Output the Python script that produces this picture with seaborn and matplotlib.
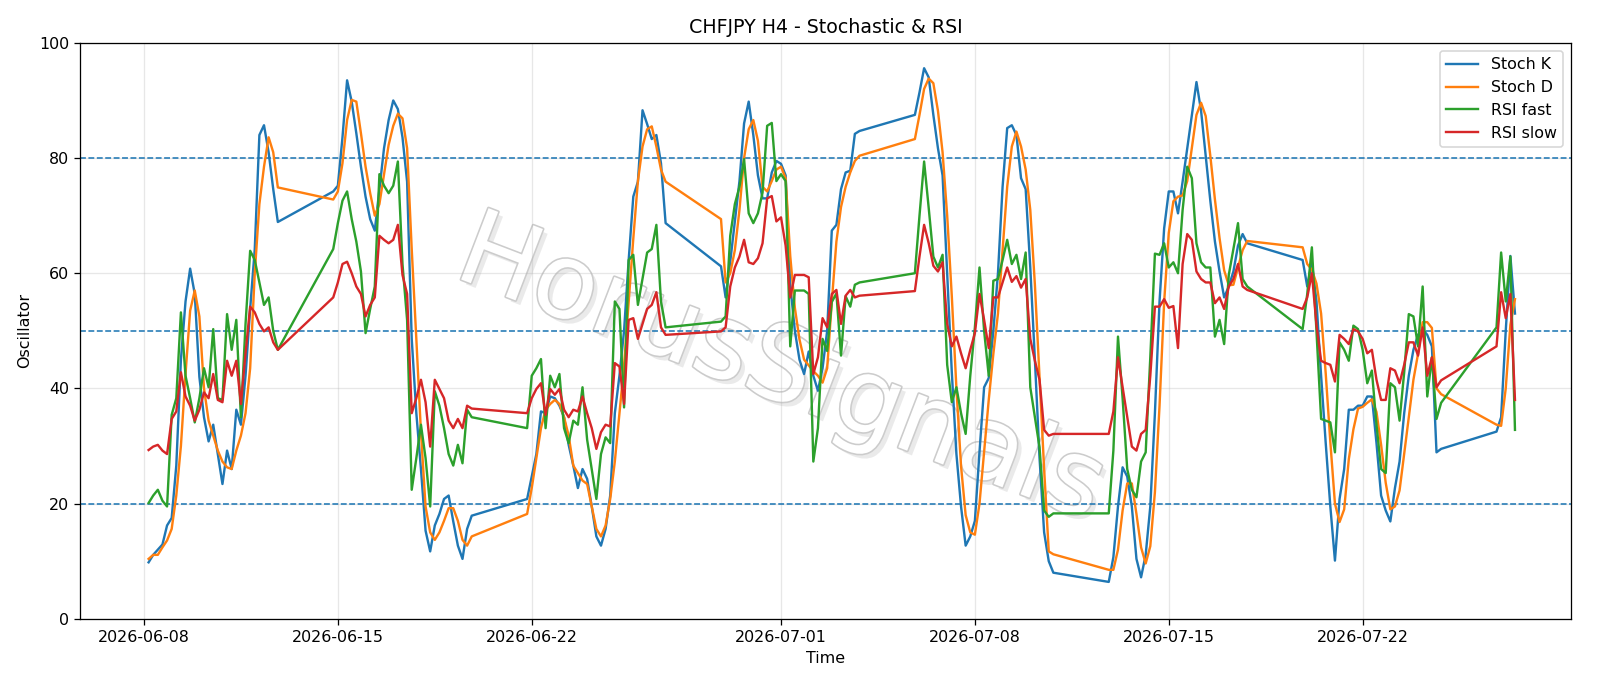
import matplotlib
matplotlib.use('Agg')
import numpy as np
import pandas as pd
import seaborn as sns
import matplotlib.pyplot as plt
import matplotlib.patheffects as pe

DPI = 1600 / 14

# H4 bars, Mon-Fri plus the Sunday 20:00 open bar
times = pd.date_range('2026-06-08 04:00', '2026-07-27 12:00', freq='4h')
times = times[~((times.dayofweek == 5) | ((times.dayofweek == 6) & (times.hour < 20)))]

series_names = ['Stoch K', 'Stoch D', 'RSI fast', 'RSI slow']
colors = ['#1f77b4', '#ff7f0e', '#2ca02c', '#d62728']
levels = [20, 50, 80]

stoch_k = [
    9.8, 11.1, 12.0, 12.9, 16.2, 17.5, 26.6, 45.0, 55.1, 60.8, 56.4, 42.0, 35.0, 30.8, 33.7, 28.6, 23.4, 29.2, 26.0, 36.3, 33.7, 42.2, 53.8, 64.2, 84.0, 85.7, 81.0, 74.6, 68.9,
    74.2, 75.2, 83.6, 93.5, 89.8, 84.3, 78.5, 73.3, 69.4, 67.4, 74.6, 81.7, 86.6, 90.0, 88.5, 83.6, 75.9, 48.6, 35.7, 26.0, 15.3, 11.7, 16.2, 18.2, 20.8, 21.4, 16.9, 12.7, 10.4, 15.6, 17.9,
    20.8, 24.7, 28.6, 36.0, 35.7, 38.6, 38.3, 37.0, 35.0, 30.2, 26.6, 22.7, 26.0, 24.3, 19.5, 14.3, 12.7, 15.6, 21.4, 35.7, 42.2, 50.0, 62.3, 73.3, 75.9, 88.3, 85.9, 83.3, 84.0, 79.1, 68.7,
    61.2, 55.8, 62.0, 69.0, 76.0, 86.0, 89.8, 84.0, 77.0, 73.0, 73.0, 77.5, 79.5, 79.0, 77.0, 58.0, 50.0, 45.0, 42.5, 46.4, 42.2, 39.6, 43.5, 50.0, 67.4, 68.4, 74.6, 77.5, 77.8, 84.2, 84.7,
    87.5, 91.4, 95.6, 94.0, 87.5, 81.7, 77.0, 60.0, 42.8, 28.6, 19.5, 12.7, 14.3, 17.0, 29.0, 40.2, 41.8, 50.0, 60.0, 75.0, 85.2, 85.7, 84.0, 76.5, 74.6, 61.0, 45.0, 28.0, 15.0, 10.0, 8.0,
    6.4, 10.7, 19.5, 26.3, 24.7, 19.5, 10.4, 7.2, 11.1, 19.5, 35.7, 55.1, 67.8, 74.2, 74.2, 70.4, 75.9, 81.7, 87.5, 93.2, 88.2, 80.4, 72.6, 65.5, 60.3, 55.8, 57.7, 60.3, 64.8, 66.8, 65.2,
    62.3, 57.7, 61.9, 55.1, 42.2, 30.5, 19.5, 10.1, 20.8, 26.0, 36.3, 36.3, 37.0, 37.0, 38.6, 38.6, 30.5, 21.4, 18.8, 16.9, 22.7, 27.3, 35.7, 42.2, 46.7, 49.3, 50.3, 49.3, 47.3, 28.9, 29.5,
    32.5, 35.0, 50.0, 63.0, 53.0,
]
stoch_d = [
    10.4, 11.1, 11.1, 12.4, 13.6, 15.6, 21.4, 30.0, 42.5, 53.5, 57.0, 52.5, 40.0, 34.4, 31.8, 29.2, 27.3, 26.3, 26.0, 29.2, 31.8, 35.7, 43.5, 60.0, 72.0, 78.5, 83.6, 81.0, 74.9,
    72.8, 74.2, 79.1, 86.6, 90.1, 89.8, 84.3, 78.5, 73.9, 70.0, 72.0, 77.2, 82.3, 85.6, 87.7, 86.9, 81.7, 64.2, 48.6, 32.4, 19.5, 15.0, 13.7, 15.0, 17.0, 19.2, 19.2, 17.0, 13.7, 12.7, 14.3,
    18.2, 22.7, 27.9, 33.1, 36.3, 37.3, 38.0, 37.3, 35.0, 31.8, 26.6, 25.3, 24.0, 23.4, 19.5, 15.6, 14.3, 16.2, 20.8, 27.3, 35.7, 44.0, 55.0, 66.0, 76.0, 82.0, 85.0, 85.5, 82.0, 78.0, 75.9,
    69.4, 58.4, 60.0, 64.0, 71.0, 80.0, 85.0, 86.6, 83.0, 75.0, 74.2, 76.0, 78.0, 78.5, 76.5, 63.0, 54.0, 48.5, 45.0, 44.0, 43.0, 42.2, 41.0, 43.5, 55.0, 65.5, 71.5, 75.0, 77.5, 79.5, 80.4,
    83.3, 87.5, 92.0, 93.8, 93.0, 88.2, 81.0, 70.0, 56.0, 40.0, 26.5, 18.0, 15.0, 14.6, 20.0, 29.0, 38.0, 46.0, 53.0, 64.0, 75.0, 82.0, 84.6, 82.0, 78.0, 71.0, 58.0, 42.0, 26.0, 11.7, 11.2,
    8.5, 8.5, 12.0, 18.8, 23.5, 23.5, 18.2, 12.4, 9.6, 12.6, 22.0, 37.0, 55.0, 67.0, 72.5, 73.3, 73.5, 76.0, 81.7, 87.5, 89.6, 87.3, 80.4, 72.8, 66.1, 60.5, 57.9, 58.0, 61.0, 64.0, 65.6,
    64.5, 61.6, 60.6, 58.2, 53.0, 42.6, 30.7, 20.0, 16.8, 19.0, 27.7, 32.9, 36.5, 36.8, 37.5, 38.1, 35.9, 30.2, 23.6, 19.0, 19.5, 22.3, 28.6, 35.0, 41.5, 46.0, 51.5, 51.5, 50.5, 40.0, 39.0,
    33.7, 33.5, 40.0, 51.0, 55.5,
]
rsi_fast = [
    20.1, 21.4, 22.4, 20.5, 19.5, 35.4, 38.3, 53.2, 42.2, 38.3, 34.1, 38.3, 43.5, 40.2, 50.3, 38.3, 38.0, 52.9, 46.7, 51.9, 35.0, 51.2, 63.9, 62.3, 58.4, 54.5, 55.8, 50.0, 46.7,
    64.2, 68.7, 72.6, 74.2, 69.4, 65.5, 60.3, 49.6, 53.8, 57.7, 77.2, 75.2, 73.9, 75.2, 79.4, 61.6, 51.9, 22.4, 27.9, 33.7, 27.9, 19.5, 39.5, 37.0, 33.1, 28.6, 26.6, 30.2, 27.0, 36.3, 35.0,
    33.1, 42.2, 43.5, 45.1, 33.1, 42.2, 40.2, 42.5, 33.1, 30.5, 34.4, 33.7, 40.2, 31.1, 26.0, 20.8, 28.6, 31.5, 30.5, 55.1, 53.8, 36.7, 62.3, 63.2, 54.5, 59.0, 63.6, 64.2, 68.4, 55.1, 50.6,
    51.6, 52.5, 66.5, 72.0, 75.0, 79.8, 70.4, 68.7, 70.4, 74.0, 85.6, 86.1, 76.0, 77.2, 76.0, 47.3, 57.0, 57.0, 57.0, 56.4, 27.3, 33.1, 48.6, 46.5, 55.0, 56.5, 45.7, 56.0, 54.2, 58.0, 58.4,
    60.0, 70.0, 79.4, 71.3, 62.9, 61.0, 63.2, 44.1, 37.6, 40.2, 35.7, 32.1, 42.2, 50.6, 61.0, 50.0, 42.2, 58.7, 59.0, 62.3, 65.8, 61.6, 63.2, 59.0, 63.6, 40.2, 35.0, 29.8, 18.8, 17.7, 18.3,
    18.3, 29.2, 49.0, 38.3, 26.0, 22.4, 21.1, 27.3, 28.9, 45.4, 63.4, 63.2, 65.2, 61.0, 61.9, 60.0, 71.0, 78.5, 76.5, 65.2, 61.9, 61.0, 61.0, 49.0, 51.9, 47.7, 59.7, 64.2, 68.7, 59.0, 57.7,
    50.3, 56.4, 64.5, 49.9, 34.7, 34.4, 34.1, 28.9, 48.0, 46.7, 44.8, 50.9, 50.3, 46.7, 40.9, 43.1, 33.7, 26.0, 25.3, 40.9, 40.2, 34.4, 42.8, 52.9, 52.5, 47.3, 57.7, 38.6, 45.4, 34.7, 37.5,
    50.6, 63.6, 55.1, 62.9, 32.8,
]
rsi_slow = [
    29.3, 29.9, 30.2, 29.2, 28.6, 34.7, 36.0, 42.8, 38.6, 37.0, 34.4, 36.3, 39.3, 38.3, 42.5, 38.0, 37.6, 44.8, 42.2, 44.8, 37.3, 46.1, 54.2, 53.2, 51.2, 49.9, 50.6, 48.0, 46.7,
    55.8, 58.4, 61.6, 62.0, 60.0, 57.7, 56.4, 52.5, 54.5, 55.8, 66.5, 65.8, 65.2, 65.8, 68.4, 59.7, 56.4, 35.7, 38.3, 41.5, 37.6, 29.9, 41.5, 39.9, 38.3, 34.4, 33.1, 34.7, 33.1, 37.0, 36.5,
    35.7, 38.3, 39.9, 40.9, 35.4, 39.9, 38.9, 39.9, 36.3, 35.0, 36.3, 36.0, 38.6, 35.7, 33.1, 29.5, 32.4, 33.7, 33.4, 44.4, 43.8, 37.3, 51.9, 52.2, 48.6, 51.2, 53.8, 54.5, 56.7, 50.6, 49.3,
    49.9, 50.6, 57.7, 61.0, 62.9, 65.8, 61.9, 61.6, 62.6, 65.2, 73.0, 73.4, 69.0, 69.7, 64.8, 55.8, 59.7, 59.7, 59.7, 59.3, 42.5, 45.4, 52.2, 50.6, 56.4, 57.1, 51.2, 56.1, 57.1, 55.8, 56.1,
    56.9, 62.9, 68.4, 65.2, 61.3, 60.3, 61.9, 51.2, 47.3, 49.0, 46.1, 43.5, 46.7, 49.6, 56.4, 51.9, 47.0, 55.8, 55.8, 58.4, 61.0, 58.5, 59.5, 57.5, 59.0, 48.6, 44.8, 41.5, 32.8, 31.8, 32.1,
    32.1, 36.0, 45.4, 40.2, 35.0, 29.9, 29.2, 32.1, 32.8, 42.2, 54.2, 54.2, 55.5, 54.0, 54.3, 47.0, 61.6, 66.8, 65.8, 60.3, 59.0, 58.4, 58.4, 54.8, 55.8, 53.8, 57.7, 59.0, 61.6, 57.7, 57.1,
    53.8, 55.8, 60.0, 51.0, 44.8, 44.4, 44.1, 41.2, 49.3, 48.6, 47.7, 50.3, 49.9, 48.6, 46.1, 46.7, 41.5, 38.0, 38.0, 43.5, 43.1, 40.9, 44.1, 48.0, 48.0, 45.7, 50.6, 42.2, 45.4, 40.2, 41.4,
    47.3, 56.7, 52.2, 56.4, 38.0,
]

df = pd.DataFrame({'time': times, 'Stoch K': stoch_k, 'Stoch D': stoch_d,
                   'RSI fast': rsi_fast, 'RSI slow': rsi_slow})

fig, ax = plt.subplots(figsize=(14, 686 / DPI), dpi=DPI)
fig.subplots_adjust(left=0.050, right=0.982, top=0.9375, bottom=0.098)

for name, c in zip(series_names, colors):
    sns.lineplot(data=df, x='time', y=name, label=name, color=c, linewidth=1.5, ax=ax, zorder=3)

for lvl in levels:
    ax.axhline(lvl, linestyle='--', linewidth=1, color='#1f77b4', zorder=2)

# watermark
ax.text(0.47, 0.43, 'HorusSignals', transform=ax.transAxes, fontsize=66,
        rotation=-21, ha='center', va='center', color='white', zorder=1,
        path_effects=[pe.withSimplePatchShadow(offset=(3, -3), shadow_rgbFace='0.6', alpha=0.2),
                      pe.Stroke(linewidth=2, foreground='0.8'), pe.Normal()])

t0 = pd.Timestamp('2026-06-08')
ax.set_xlim(t0 - pd.Timedelta(days=2.31), t0 + pd.Timedelta(days=51.53))
ax.set_ylim(0, 100)
ax.grid(True, alpha=0.3)
ax.set_title('CHFJPY H4 - Stochastic & RSI')
ax.set_xlabel('Time')
ax.set_ylabel('Oscillator')
ax.legend(loc='upper right')

fig.savefig('out.png', dpi=DPI)
